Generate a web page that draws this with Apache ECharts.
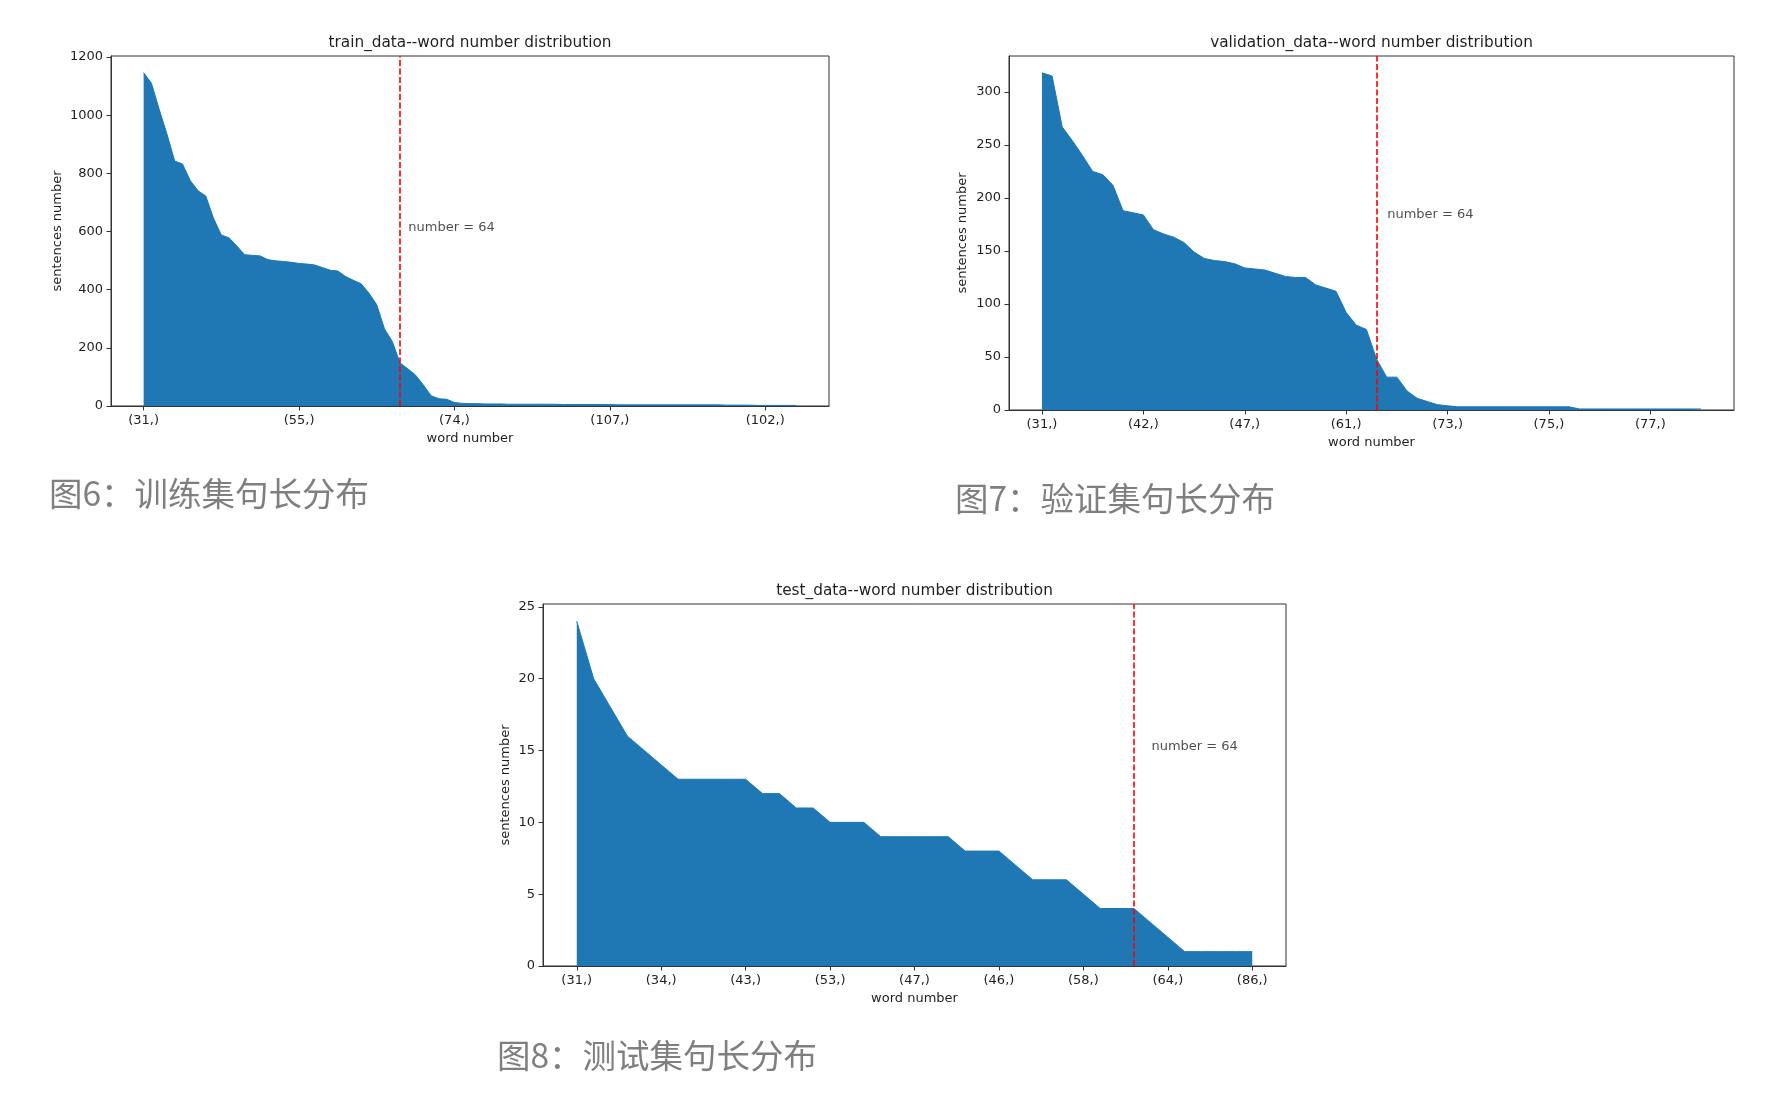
<!DOCTYPE html>
<html><head><meta charset="utf-8">
<script src="https://cdn.jsdelivr.net/npm/echarts@6/dist/echarts.min.js"></script>
<style>html,body{margin:0;padding:0;background:#fff}#c{width:1776px;height:1108px}</style>
</head><body><div id="c"></div>
<script>
// ---------- data ----------
const trainCounts = [1146,1110,1020,935,842,832,775,740,722,645,588,578,550,520,518,516,503,499,497,494,
  490,488,485,476,467,464,445,432,420,388,348,265,222,148,128,106,72,35,25,23,
  12,9,8,8,7,7,7,6,6,6,6,6,6,6,5,5,5,5,5,5,
  5,4,4,4,4,4,4,4,4,4,4,4,4,4,4,3,3,3,3,2,2,2,2,2,2];
const trainTickPos = [0,20,40,60,80];
const trainTickLabels = ['(31,)','(55,)','(74,)','(107,)','(102,)'];
const trainYTicks = [0,200,400,600,800,1000,1200];

const valCounts = [318,315,267,254,240,225,222,212,188,186,184,170,166,163,158,149,143,141,140,138,
  134,133,132,129,126,125,125,118,115,112,92,80,76,48,31,31,18,11,8,5,
  4,3,3,3,3,3,3,3,3,3,3,3,3,1,1,1,1,1,1,1,1,1,1,1,1,1];
const valTickPos = [0,10,20,30,40,50,60];
const valTickLabels = ['(31,)','(42,)','(47,)','(61,)','(73,)','(75,)','(77,)'];
const valYTicks = [0,50,100,150,200,250,300];

const testCounts = [24,20,18,16,15,14,13,13,13,13,13,12,12,11,11,10,10,10,9,9,
  9,9,9,8,8,8,7,6,6,6,5,4,4,4,3,2,1,1,1,1,1];
const testTickPos = [0,5,10,15,20,25,30,35,40];
const testTickLabels = ['(31,)','(34,)','(43,)','(53,)','(47,)','(46,)','(58,)','(64,)','(86,)'];
const testYTicks = [0,5,10,15,20,25];

const cutIndex = 33;
const noteIndex = 34;
const noteText = 'number = 64';
const noteY = [614, 184, 15.3];

const titles = ['train_data--word number distribution','validation_data--word number distribution','test_data--word number distribution'];
const captions = ['图6：训练集句长分布','图7：验证集句长分布','图8：测试集句长分布'];

// ---------- layout ----------
const grids = [
  {left:111, top:56, width:718, height:350},
  {left:1009, top:56, width:725, height:354},
  {left:543, top:604, width:743, height:362}
];
const yNameGaps = [47, 40, 31];
const capPos = [[49,493],[955,498],[497,1055]];

const FONT = 'DejaVu Sans';
const FS = 13;
const TXT = '#1f1f1f';
const LINE = '#333';
const BLUE = '#1f77b4';

const sets = [
  {counts:trainCounts, tp:trainTickPos, tl:trainTickLabels, yt:trainYTicks},
  {counts:valCounts, tp:valTickPos, tl:valTickLabels, yt:valYTicks},
  {counts:testCounts, tp:testTickPos, tl:testTickLabels, yt:testYTicks}
];

const option = {
  backgroundColor:'#fff',
  animation:false,
  grid: grids.map(g => Object.assign({show:true, borderColor:LINE, borderWidth:1, backgroundColor:'transparent', containLabel:false}, g)),
  xAxis: sets.map((s,i) => {
    const n = s.counts.length;
    return {
      type:'value', gridIndex:i,
      min: -0.05*(n-1), max: 1.05*(n-1),
      splitLine:{show:false},
      axisLine:{show:true, onZero:false, lineStyle:{color:LINE, width:1}},
      axisTick:{show:true, inside:false, length:4.5, customValues:s.tp, lineStyle:{color:LINE, width:1}},
      axisLabel:{show:true, customValues:s.tp, margin:8, color:TXT, fontSize:FS, fontFamily:FONT,
        formatter: v => { const k = s.tp.indexOf(Math.round(v)); return k >= 0 ? s.tl[k] : ''; }},
      name:'word number', nameLocation:'middle', nameGap:26,
      nameTextStyle:{color:TXT, fontSize:FS, fontFamily:FONT}
    };
  }),
  yAxis: sets.map((s,i) => {
    const mx = Math.max(...s.counts);
    return {
      type:'value', gridIndex:i,
      min:0, max: 1.05*mx,
      splitLine:{show:false},
      axisLine:{show:true, onZero:false, lineStyle:{color:LINE, width:1}},
      axisTick:{show:true, inside:false, length:4.5, customValues:s.yt, lineStyle:{color:LINE, width:1}},
      axisLabel:{show:true, customValues:s.yt, margin:8, color:TXT, fontSize:FS, fontFamily:FONT,
        formatter: v => String(Math.round(v))},
      name:'sentences number', nameLocation:'middle', nameGap:yNameGaps[i],
      nameTextStyle:{color:TXT, fontSize:FS, fontFamily:FONT}
    };
  }),
  series: [],
  graphic: []
};

sets.forEach((s,i) => {
  option.series.push({
    type:'line', xAxisIndex:i, yAxisIndex:i,
    data: s.counts.map((v,k) => [k,v]),
    symbol:'none', showSymbol:false, silent:true,
    lineStyle:{color:BLUE, width:1},
    itemStyle:{color:BLUE},
    areaStyle:{color:BLUE, opacity:1},
    markLine:{
      symbol:['none','none'], silent:true, animation:false,
      label:{show:false},
      lineStyle:{color:'#ff0000', type:[6,2.5], width:1.6},
      data:[{xAxis:cutIndex}]
    },
    z:2
  });
  option.series.push({
    type:'scatter', xAxisIndex:i, yAxisIndex:i,
    data:[[noteIndex, noteY[i]]],
    symbolSize:1, itemStyle:{color:'rgba(0,0,0,0)'}, silent:true,
    label:{show:true, position:'right', distance:0, formatter:noteText,
      color:TXT, fontSize:FS, fontFamily:FONT},
    z:3
  });
  const g = grids[i];
  option.graphic.push({
    type:'text', x: g.left + g.width/2, y: g.top - 12.5,
    style:{text:titles[i], font:'15.3px "DejaVu Sans"', fill:TXT,
      textAlign:'center', textVerticalAlign:'middle', align:'center', verticalAlign:'middle'}
  });
  option.graphic.push({
    type:'text', x: capPos[i][0], y: capPos[i][1],
    style:{text:captions[i], font:'33.5px "Noto Sans CJK SC"', fill:'#7f7f7f',
      textAlign:'left', textVerticalAlign:'middle', align:'left', verticalAlign:'middle'}
  });
});

const chart = echarts.init(document.getElementById('c'), null, {renderer:'canvas'});
chart.setOption(option);
</script>
</body></html>
